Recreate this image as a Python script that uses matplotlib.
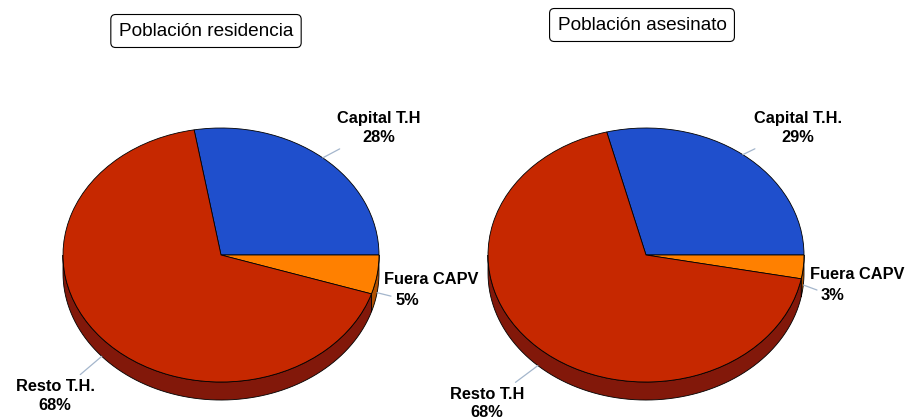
import numpy as np
import matplotlib.pyplot as plt

plt.rcParams['font.family'] = ['Liberation Sans', 'DejaVu Sans']

# Datos
titulo_res = 'Población residencia'
etiquetas_res = ['Capital T.H', 'Fuera CAPV', 'Resto T.H.']
valores_res = [28, 5, 68]

titulo_ases = 'Población asesinato'
etiquetas_ases = ['Capital T.H.', 'Fuera CAPV', 'Resto T.H']
valores_ases = [29, 3, 68]

# Estilo
colores = ['#1F4FCC', '#FF8000', '#C62800']
oscuros = ['#10287A', '#B05000', '#82180A']
prof = 0.142  # grosor del "3D" en unidades de y
color_guia = '#A4B6CC'
tam = 11.8


def tarta_3d(ax, valores, etiquetas, pos_texto):
    total = sum(valores)
    inicio = 360 * valores[0] / total
    wedges, _ = ax.pie(valores, colors=colores, startangle=inicio, counterclock=False,
                       wedgeprops=dict(edgecolor='black', linewidth=0.6))
    ax.set_aspect('auto')

    # pared lateral (solo la mitad de abajo se ve)
    for w, c in zip(wedges, oscuros):
        for lo, hi in [(-180, 0), (180, 360)]:
            a = max(w.theta1, lo)
            b = min(w.theta2, hi)
            if b - a <= 0.01:
                continue
            t = np.radians(np.linspace(a, b, 80))
            xs = np.concatenate([np.cos(t), np.cos(t[::-1])])
            ys = np.concatenate([np.sin(t), np.sin(t[::-1]) - prof])
            ax.fill(xs, ys, color=c, edgecolor='black', linewidth=0.6, zorder=0.5)

    # etiquetas con líneas guía
    for w, etq, v, (tx, ty) in zip(wedges, etiquetas, valores, pos_texto):
        med = np.radians((w.theta1 + w.theta2) / 2)
        px, py = np.cos(med), np.sin(med)
        if py < 0:
            py -= prof
        pct = f'{v}%'
        if etq.startswith('Fuera'):
            ax.text(tx, ty, etq, ha='left', va='center', fontsize=tam, fontweight='bold')
            ax.annotate(pct, xy=(px, py), xytext=(tx + 0.07, ty - 0.165), ha='left', va='center',
                        fontsize=tam, fontweight='bold',
                        arrowprops=dict(arrowstyle='-', color=color_guia, lw=0.9,
                                        shrinkA=1, shrinkB=0))
        else:
            ax.annotate(etq + '\n' + pct, xy=(px, py), xytext=(tx, ty), ha='center', va='center',
                        fontsize=tam, fontweight='bold', multialignment='center',
                        linespacing=1.3,
                        arrowprops=dict(arrowstyle='-', color=color_guia, lw=0.9,
                                        shrinkA=2, shrinkB=0))


fig = plt.figure(figsize=(9.08, 4.19), dpi=100)

ax1 = fig.add_axes([0, 0, 0.5, 1])
tarta_3d(ax1, valores_res, etiquetas_res,
         [(1.0, 1.0), (1.032, -0.19), (-1.05, -1.11)])
ax1.set_xlim(-221 / 158, (454 - 221) / 158)
ax1.set_ylim(-164 / 127, 255 / 127)
ax1.axis('off')

ax2 = fig.add_axes([0.5, 0, 0.5, 1])
tarta_3d(ax2, valores_ases, etiquetas_ases,
         [(0.96, 1.0), (1.038, -0.157), (-1.006, -1.17)])
ax2.set_xlim((454 - 646) / 158, (908 - 646) / 158)
ax2.set_ylim(-164 / 127, 255 / 127)
ax2.axis('off')

caja = dict(boxstyle='round,pad=0.42,rounding_size=0.25', fc='white', ec='black', lw=0.8)
fig.text(206 / 908, 1 - 31 / 419, titulo_res, ha='center', va='center', fontsize=13.7, bbox=caja)
fig.text(642 / 908, 1 - 25 / 419, titulo_ases, ha='center', va='center', fontsize=13.7, bbox=caja)

fig.savefig('out.png', dpi=100)
